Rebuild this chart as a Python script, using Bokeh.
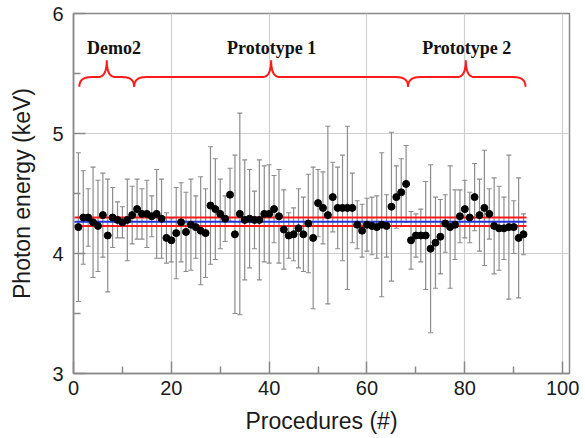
import numpy as np
from bokeh.plotting import figure
from bokeh.models import ColumnDataSource, Whisker, TeeHead, FixedTicker, Range1d
from bokeh.core.properties import value
from bokeh.embed import file_html
from bokeh.resources import INLINE

# ---------------- data ----------------
procedure = list(range(1, 93))
energy = [4.22, 4.30, 4.30, 4.26, 4.23, 4.32, 4.15, 4.30, 4.28, 4.26,
          4.28, 4.32, 4.37, 4.33, 4.33, 4.31, 4.33, 4.29, 4.13, 4.11,
          4.17, 4.26, 4.18, 4.24, 4.22, 4.19, 4.17, 4.40, 4.37, 4.33,
          4.29, 4.49, 4.16, 4.33, 4.28, 4.29, 4.28, 4.28, 4.33, 4.33,
          4.37, 4.31, 4.20, 4.15, 4.16, 4.21, 4.16, 4.25, 4.13, 4.42,
          4.38, 4.32, 4.47, 4.38, 4.38, 4.38, 4.38, 4.24, 4.19, 4.24,
          4.23, 4.22, 4.24, 4.23, 4.39, 4.47, 4.51, 4.58, 4.11, 4.15,
          4.15, 4.15, 4.04, 4.09, 4.14, 4.25, 4.22, 4.24, 4.31, 4.37,
          4.30, 4.47, 4.32, 4.38, 4.33, 4.23, 4.21, 4.21, 4.22, 4.22,
          4.13, 4.16]
error = [0.62, 0.39, 0.24, 0.46, 0.38, 0.35, 0.47, 0.25, 0.15, 0.13,
         0.34, 0.24, 0.25, 0.21, 0.28, 0.17, 0.37, 0.33, 0.21, 0.18,
         0.38, 0.33, 0.33, 0.38, 0.26, 0.45, 0.37, 0.49, 0.42, 0.29,
         0.19, 0.22, 0.66, 0.84, 0.50, 0.41, 0.24, 0.50, 0.40, 0.41,
         0.28, 0.39, 0.33, 0.19, 0.22, 0.33, 0.31, 0.41, 0.59, 0.28,
         0.30, 0.74, 0.29, 0.34, 0.44, 0.68, 0.29, 0.20, 0.22, 0.22,
         0.24, 0.26, 0.60, 0.26, 0.62, 0.26, 0.28, 0.32, 0.24, 0.18,
         0.22, 0.45, 0.70, 0.38, 0.31, 0.24, 0.51, 0.29, 0.22, 0.24,
         0.21, 0.28, 0.30, 0.48, 0.21, 0.40, 0.35, 0.26, 0.60, 0.22,
         0.50, 0.17]

ref_values = [4.30, 4.265, 4.23]
ref_colors = ["#ff1a1a", "#2233dd", "#ff1a1a"]
ref_x_start = 0.2
ref_x_end = 92.6

group_names = ["Demo2", "Prototype 1", "Prototype 2"]
group_start = [1.2, 12.4, 68.4]
group_end = [12.4, 68.4, 92.4]
group_tip = [6.8, 40.4, 80.2]
label_x = [8.3, 40.5, 80.4]
label_y = 5.71
brace_bar_y = 5.47
brace_tip_y = 5.61
brace_end_y = 5.39

x_ticks = [0, 20, 40, 60, 80, 100]
x_minor = [10, 30, 50, 70, 90]
y_ticks = [3, 4, 5, 6]
y_minor = [3.5, 4.5, 5.5]

# ---------------- figure ----------------
p = figure(width=585, height=438, output_backend="svg", toolbar_location=None,
           x_range=Range1d(0, 101.4), y_range=Range1d(3, 6),
           min_border_left=73, min_border_right=16, min_border_top=13,
           min_border_bottom=65)
p.background_fill_color = "white"
p.border_fill_color = "white"
p.outline_line_color = "#8a8a8a"
p.outline_line_width = 1.5

e = np.array(energy)
err = np.array(error)
src = ColumnDataSource(dict(x=procedure, y=energy,
                            upper=list(e + err), lower=list(e - err)))

grey = "#8c8c8c"
wh = Whisker(source=src, base="x", upper="upper", lower="lower",
             line_color=grey, line_width=1.2,
             upper_head=TeeHead(size=5, line_color=grey, line_width=1.1),
             lower_head=TeeHead(size=5, line_color=grey, line_width=1.1))
p.add_layout(wh)

for v, c in zip(ref_values, ref_colors):
    p.line([ref_x_start, ref_x_end], [v, v], line_color=c, line_width=2)

p.scatter("x", "y", source=src, size=7, color="black")


# curly braces built from group spans
def qbez(p0, p1, p2, n=16):
    t = np.linspace(0, 1, n)
    xs = (1 - t) ** 2 * p0[0] + 2 * (1 - t) * t * p1[0] + t ** 2 * p2[0]
    ys = (1 - t) ** 2 * p0[1] + 2 * (1 - t) * t * p1[1] + t ** 2 * p2[1]
    return list(xs), list(ys)


bx, by = [], []
for a, m, b in zip(group_start, group_tip, group_end):
    we, wt = 2.4, 1.8
    xs, ys = [], []
    for seg in [qbez((a, brace_end_y), (a, brace_bar_y), (a + we, brace_bar_y)),
                qbez((m - wt, brace_bar_y), (m, brace_bar_y), (m, brace_tip_y)),
                qbez((m, brace_tip_y), (m, brace_bar_y), (m + wt, brace_bar_y)),
                qbez((b - we, brace_bar_y), (b, brace_bar_y), (b, brace_end_y))]:
        xs += seg[0]
        ys += seg[1]
    bx.append(xs)
    by.append(ys)
p.multi_line(bx, by, line_color="#ff1a1a", line_width=2)

p.text(x=label_x, y=[label_y] * 3, text=group_names,
       text_font=value("Liberation Serif"), text_font_style="bold",
       text_font_size="18px", text_align="center", text_baseline="middle",
       text_color="#111111")

# grid
p.xgrid.ticker = FixedTicker(ticks=x_ticks)
p.ygrid.ticker = FixedTicker(ticks=y_ticks)
for g in (p.xgrid, p.ygrid):
    g.grid_line_color = "#cfcfcf"
    g.grid_line_width = 1.2

# axes
p.xaxis.ticker = FixedTicker(ticks=x_ticks, minor_ticks=x_minor)
p.yaxis.ticker = FixedTicker(ticks=y_ticks, minor_ticks=y_minor)
p.xaxis.axis_label = "Procedures (#)"
p.yaxis.axis_label = "Photon energy (keV)"
for ax in (p.xaxis, p.yaxis):
    ax.axis_line_color = "#8a8a8a"
    ax.axis_line_width = 1.5
    ax.major_tick_in = 12
    ax.major_tick_out = 0
    ax.minor_tick_in = 7
    ax.minor_tick_out = 0
    ax.major_tick_line_color = "#8a8a8a"
    ax.minor_tick_line_color = "#8a8a8a"
    ax.major_tick_line_width = 1.5
    ax.minor_tick_line_width = 1.5
    ax.major_label_text_font = "Liberation Sans"
    ax.major_label_text_font_size = "20px"
    ax.major_label_text_color = "#1a1a1a"
    ax.axis_label_text_font = "Liberation Sans"
    ax.axis_label_text_font_size = "23px"
    ax.axis_label_text_font_style = "normal"
    ax.axis_label_text_color = "#1a1a1a"
p.xaxis.major_label_standoff = 7
p.xaxis.axis_label_standoff = 10
p.yaxis.major_label_standoff = 10
p.yaxis.axis_label_standoff = 14

open("out.html", "w").write(file_html(p, INLINE))
